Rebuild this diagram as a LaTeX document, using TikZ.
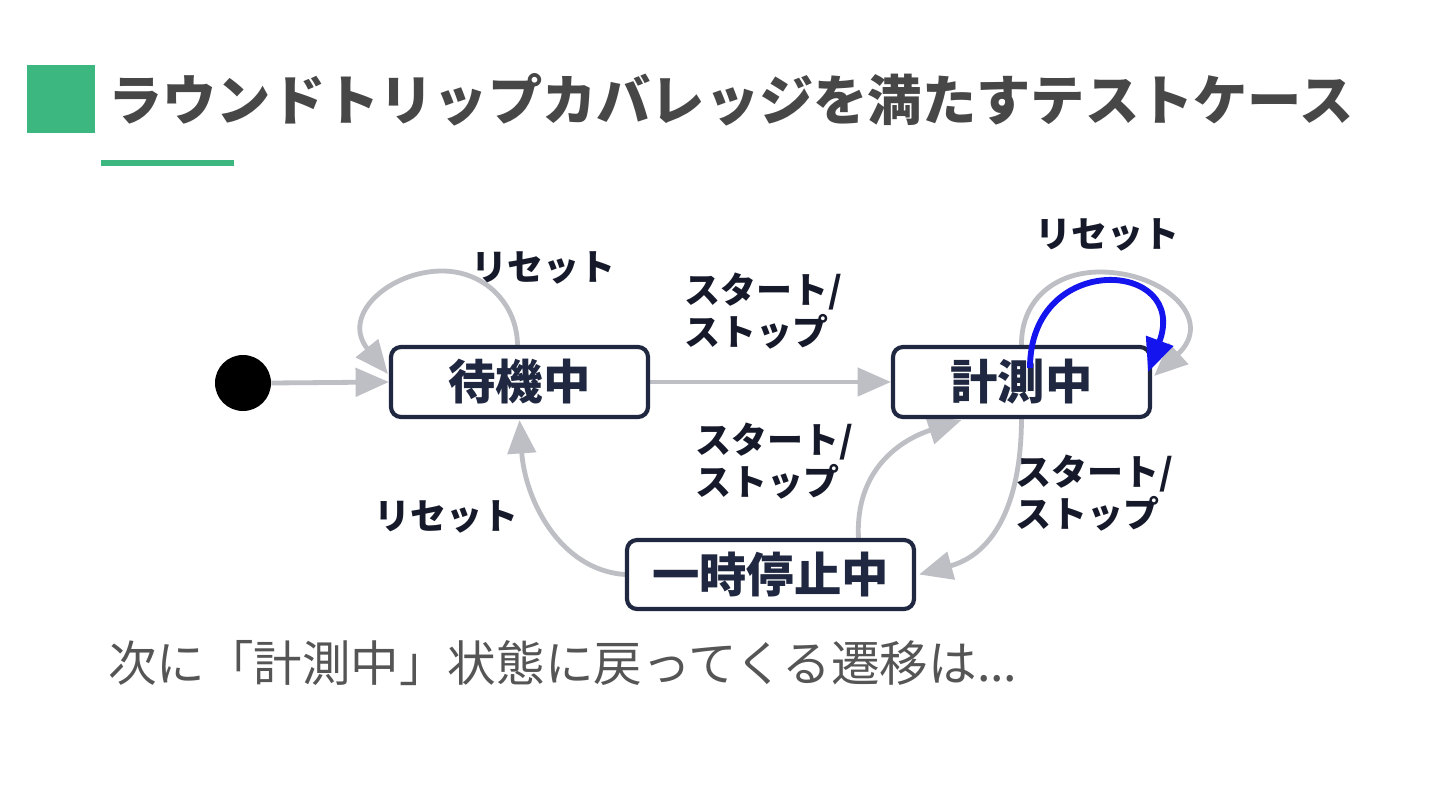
\documentclass[tikz,border=0pt]{standalone}
\usepackage{fontspec}
\setmainfont{Noto Sans CJK JP}
\usetikzlibrary{arrows.meta,calc}
\definecolor{accent}{HTML}{3CB77F}
\definecolor{titlegray}{HTML}{474747}
\definecolor{bodygray}{HTML}{555555}
\definecolor{navy}{HTML}{1F2840}
\definecolor{edgegray}{HTML}{BDBFC5}
\definecolor{labelc}{HTML}{15192A}
\definecolor{hiblue}{HTML}{1414EE}
\pgfdeclarelayer{bg}
\pgfdeclarelayer{canvas}
\pgfsetlayers{canvas,bg,main}
\tikzset{
  stbox/.style={draw=navy, line width=3.1pt, rounded corners=7.5pt, fill=white,
    font=\fontsize{35.5}{40}\selectfont\bfseries, text=navy, inner sep=0pt},
  gedge/.style={draw=edgegray, line width=3.6pt, -{Triangle[length=25pt,width=21pt]}},
  bedge/.style={draw=hiblue, line width=4.4pt, -{Triangle[length=25pt,width=21pt]}},
  elabel/.style={font=\fontsize{27}{31.5}\selectfont\bfseries, text=labelc, inner sep=0pt, align=left},
}
\begin{document}
\begin{tikzpicture}[x=0.75pt,y=-0.75pt]
\begin{pgfonlayer}{canvas}
\fill[white] (0,0) rectangle (1440,810);
\end{pgfonlayer}
\useasboundingbox (0,0) rectangle (1440,810);
% header
\fill[accent] (27,65) rectangle (95,133);
\fill[accent] (101,160) rectangle (234,166);
\node[anchor=west, inner sep=0pt, text=titlegray, font=\fontsize{40.7}{48}\selectfont\bfseries] (title) at (108,100) {ラウンドトリップカバレッジを満たすテストケース};
% states
\node[circle, fill=black, minimum size=42pt, inner sep=0pt] (init) at (243,383) {};
\node[stbox, minimum width=192.75pt, minimum height=52.5pt] (wait) at (519.5,382) {待機中};
\node[stbox, minimum width=192.75pt, minimum height=52.5pt] (meas) at (1021.5,382) {計測中};
\node[stbox, minimum width=215.25pt, minimum height=51.75pt] (pause) at (770.5,574.5) {一時停止中};
\coordinate (waittop) at (442,271);
\coordinate (meastop) at (1100,272);
% gray edges
\begin{pgfonlayer}{bg}
\draw[gedge] (init.east) -- (wait.west);
\draw[gedge] (wait.east) -- (meas.west);
\draw[gedge] ($(wait.north)+(-2,0)$) .. controls (517,304) and (485,271) .. (waittop)
   .. controls (390,271) and (340,315) .. ($(wait.west)+(-1,-8)$);
\draw[gedge] (meas.north) .. controls (1021,300) and (1055,272) .. (meastop)
   .. controls (1165,272) and (1215,320) .. ($(meas.east)+(2,-6)$);
\draw[gedge] (meas.south) .. controls (1021,510) and (990,555) .. ($(pause.east)+(3,0)$);
\draw[gedge] ($(pause.north)+(88,0)$) .. controls (855,470) and (900,440) .. ($(meas.south)+(-60,1)$);
\draw[gedge] (pause.west) .. controls (560,570) and (525,500) .. ($(wait.south)+(0,1)$);
\end{pgfonlayer}
% highlighted loop
\draw[bedge] ($(meas.center)+(8.5,-14)$) .. controls (1030,250) and (1190,260) .. ($(meas.east)+(-4,-10)$);
% labels
\node[elabel] (l1) at (543,268) {リセット};
\node[elabel, anchor=west] (l2) at (684,311) {スタート/\\ストップ};
\node[elabel, anchor=west] (l3) at (695,461) {スタート/\\ストップ};
\node[elabel] (l4) at (446,517) {リセット};
\node[elabel, anchor=west] (l5) at (1015,493) {スタート/\\ストップ};
\node[elabel] (l6) at (1107,235) {リセット};
% footer
\node[anchor=west, inner sep=0pt, text=bodygray, font=\fontsize{36.4}{42}\selectfont] (foot) at (108,663) {次に「計測中」状態に戻ってくる遷移は...};
\end{tikzpicture}
\end{document}
